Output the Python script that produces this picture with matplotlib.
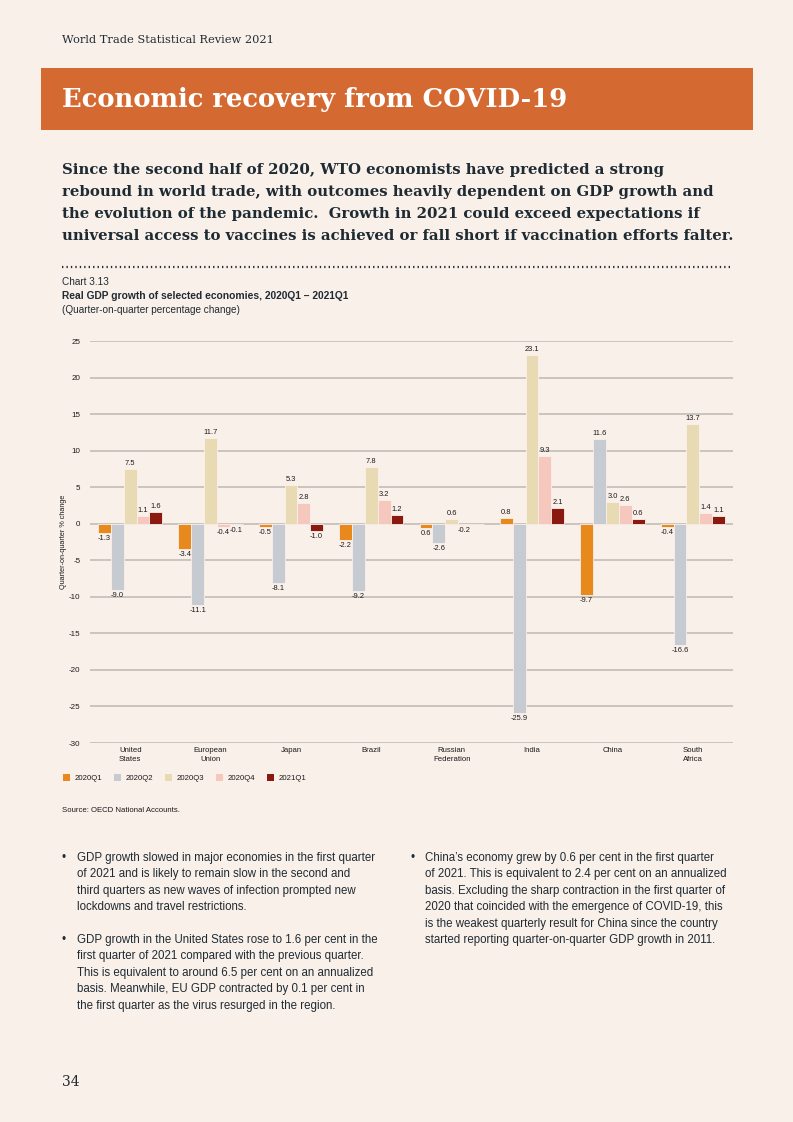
import numpy as np
import matplotlib
matplotlib.use("Agg")
import matplotlib.pyplot as plt
from matplotlib import font_manager
from matplotlib.patches import Patch, Rectangle

names = {f.name for f in font_manager.fontManager.ttflist}
SANS = "Liberation Sans Narrow" if "Liberation Sans Narrow" in names else "Liberation Sans"
SERIF = "DejaVu Serif"
plt.rcParams["font.family"] = [SANS, "DejaVu Sans"]
plt.rcParams["axes.unicode_minus"] = False

# data
economies = ["United\nStates", "European\nUnion", "Japan", "Brazil", "Russian\nFederation",
             "India", "China", "South\nAfrica"]
quarters = ["2020Q1", "2020Q2", "2020Q3", "2020Q4", "2021Q1"]
q2020_1 = [-1.3, -3.4, -0.5, -2.2, -0.6, 0.8, -9.7, -0.4]
q2020_2 = [-9.0, -11.1, -8.1, -9.2, -2.6, -25.9, 11.6, -16.6]
q2020_3 = [7.5, 11.7, 5.3, 7.8, 0.6, 23.1, 3.0, 13.7]
q2020_4 = [1.1, -0.4, 2.8, 3.2, -0.2, 9.3, 2.6, 1.4]
q2021_1 = [1.6, -0.1, -1.0, 1.2, np.nan, 2.1, 0.6, 1.1]
series = [q2020_1, q2020_2, q2020_3, q2020_4, q2021_1]
colors = ["#E8891E", "#C5CBD1", "#E8DBB4", "#F6C7BC", "#8A1A10"]

BG = "#FAF0EA"
DARK = "#1E2B33"
W, H = 793, 1122

def fx(x):
    return x / W

def fy(y):
    return 1 - y / H

fig = plt.figure(figsize=(W / 100, H / 100), dpi=100, facecolor=BG)

# header
fig.text(fx(62), fy(40), "World Trade Statistical Review 2021", family=SERIF,
         fontsize=8.2, color=DARK, va="center")
fig.patches.append(Rectangle((fx(41), fy(130)), fx(753) - fx(41), fy(68) - fy(130),
                             transform=fig.transFigure, facecolor="#D46A32", edgecolor="none"))
fig.text(fx(62), fy(100), "Economic recovery from COVID-19", family=SERIF, fontweight="bold",
         fontsize=18.6, color="white", va="center")

lead = ["Since the second half of 2020, WTO economists have predicted a strong",
        "rebound in world trade, with outcomes heavily dependent on GDP growth and",
        "the evolution of the pandemic.  Growth in 2021 could exceed expectations if",
        "universal access to vaccines is achieved or fall short if vaccination efforts falter."]
for i, line in enumerate(lead):
    fig.text(fx(62), fy(170 + 22 * i), line, family=SERIF, fontweight="bold",
             fontsize=10.75, color=DARK, va="center")

# dotted separator
fig.lines.append(plt.Line2D([fx(62), fx(732)], [fy(267), fy(267)], transform=fig.transFigure,
                            color=DARK, linestyle=(0, (0.6, 1.4)), linewidth=1.6))

fig.text(fx(62), fy(282), "Chart 3.13", fontsize=7.2, color=DARK, va="center")
fig.text(fx(62), fy(296), "Real GDP growth of selected economies, 2020Q1 \u2013 2021Q1",
         fontsize=7.4, fontweight="bold", color=DARK, va="center")
fig.text(fx(62), fy(310), "(Quarter-on-quarter percentage change)", fontsize=7.2,
         color=DARK, va="center")

# chart
ax = fig.add_axes([fx(90), fy(743), fx(733) - fx(90), fy(341) - fy(743)])
ax.set_facecolor(BG)
x = np.arange(len(economies))
width = 0.16
for k, (vals, col) in enumerate(zip(series, colors)):
    vals = np.array(vals, dtype=float)
    bars = ax.bar(x + (k - 2) * width, np.nan_to_num(vals), width, color=col,
                  edgecolor=BG, linewidth=0.6, zorder=3)
    labels = ["" if np.isnan(v) else f"{v:.1f}" for v in vals]
    if k == 0:
        labels[4] = "0.6"
    ax.bar_label(bars, labels=labels, padding=1.5, fontsize=5.4, color="#1a1a1a", zorder=4)

ax.set_ylim(-30, 25)
ax.set_xlim(-0.5, len(economies) - 0.5)
ax.set_yticks(np.arange(-30, 26, 5))
ax.set_xticks(x)
ax.set_xticklabels(economies, fontsize=5.6, color="#1a1a1a", linespacing=1.4)
ax.tick_params(axis="y", length=0, pad=7, labelsize=5.8, labelcolor="#1a1a1a")
ax.tick_params(axis="x", length=0, pad=3)
ax.yaxis.grid(True, color="#BDB8B4", linewidth=1.1, zorder=0)
ax.set_axisbelow(True)
for s in ax.spines.values():
    s.set_visible(False)
ax.set_ylabel("Quarter-on-quarter % change", fontsize=5.2, color="#1a1a1a")
ax.yaxis.set_label_coords(-0.036, 0.5)

handles = [Patch(facecolor=c, edgecolor="none") for c in colors]
fig.legend(handles, quarters, loc="center left", bbox_to_anchor=(fx(56), fy(778)), ncol=5,
           frameon=False, fontsize=5.6, handlelength=0.9, handleheight=0.9,
           columnspacing=1.5, handletextpad=0.6, labelcolor="#1a1a1a")

fig.text(fx(62), fy(810), "Source: OECD National Accounts.", fontsize=5.6, color="#1a1a1a",
         va="center")

# bullet text
left_col = [
    ["GDP growth slowed in major economies in the first quarter",
     "of 2021 and is likely to remain slow in the second and",
     "third quarters as new waves of infection prompted new",
     "lockdowns and travel restrictions."],
    ["GDP growth in the United States rose to 1.6 per cent in the",
     "first quarter of 2021 compared with the previous quarter.",
     "This is equivalent to around 6.5 per cent on an annualized",
     "basis. Meanwhile, EU GDP contracted by 0.1 per cent in",
     "the first quarter as the virus resurged in the region."],
]
right_col = [
    ["China\u2019s economy grew by 0.6 per cent in the first quarter",
     "of 2021. This is equivalent to 2.4 per cent on an annualized",
     "basis. Excluding the sharp contraction in the first quarter of",
     "2020 that coincided with the emergence of COVID-19, this",
     "is the weakest quarterly result for China since the country",
     "started reporting quarter-on-quarter GDP growth in 2011."],
]

def draw_bullets(paras, xb, y0):
    y = y0
    for para in paras:
        fig.text(fx(xb), fy(y), "\u2022", fontsize=8.3, color=DARK, va="center")
        for line in para:
            fig.text(fx(xb + 15), fy(y), line, fontsize=8.3, color=DARK, va="center")
            y += 16.4
        y += 16.4

draw_bullets(left_col, 62, 858)
draw_bullets(right_col, 410, 858)

fig.text(fx(62), fy(1082), "34", family=SERIF, fontsize=10, color=DARK, va="center")

fig.savefig("out.png", dpi=100, facecolor=BG)
